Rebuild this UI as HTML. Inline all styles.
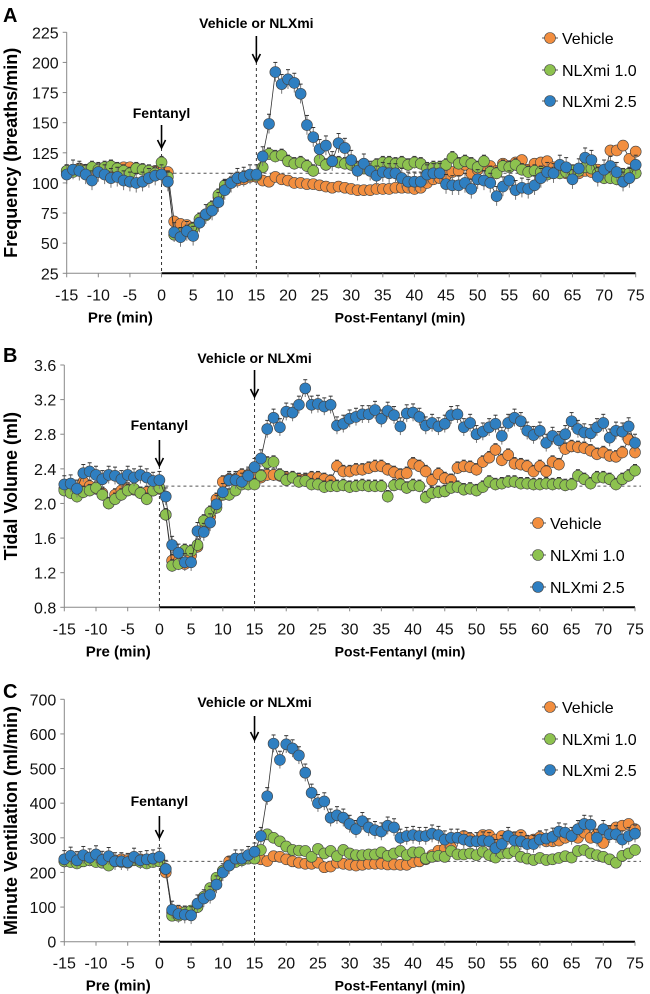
<!DOCTYPE html>
<html><head><meta charset="utf-8"><style>
body{margin:0;background:#fff;}
svg{display:block;font-family:"Liberation Sans",sans-serif;}
</style></head><body>
<svg id="chart" width="650" height="994" viewBox="0 0 650 994"></svg>
<script>
const minutes = []; for (let m = -15; m <= 75; m++) minutes.push(m);
const xTicks = [-15,-10,-5,0,5,10,15,20,25,30,35,40,45,50,55,60,65,70,75];
const seriesNames = ["Vehicle","NLXmi 1.0","NLXmi 2.5"];
const freqTicks = [25,50,75,100,125,150,175,200,225];
const tvTicks = [0.8,1.2,1.6,2.0,2.4,2.8,3.2,3.6];
const mvTicks = [0,100,200,300,400,500,600,700];

const freqVehicle = [110,111,112,111,110,111,112,113,112,113,113,112,111,110,110,109,109,68,66,65,63,67,74,80,88,96,100,102,103,105,105,102,101,105,103,102,100,100,99,99,98,97,96,97,96,95,94,94,94,95,95,95,96,96,96,95,96,100,103,104,106,109,110,115,108,111,115,114,110,116,114,117,119,111,116,117,118,113,112,108,107,108,110,109,111,106,127,127,131,120,126];
const freqN1 = [110,109,111,110,113,111,113,114,112,110,108,112,111,110,108,117,105,57,58,60,62,70,73,80,90,98,100,104,105,106,106,113,124,122,123,118,116,117,114,110,119,115,118,117,116,115,112,112,111,115,117,117,116,117,115,117,116,112,113,113,115,121,116,118,116,113,118,109,108,114,113,115,111,109,110,109,107,108,108,109,110,110,113,112,108,104,104,103,107,108,108];
const freqN25 = [107,111,110,107,102,109,107,104,105,102,101,100,101,104,106,107,101,59,55,60,56,67,74,77,84,94,100,104,105,107,107,122,149,192,182,186,183,174,148,138,128,131,118,133,129,119,110,116,110,106,109,108,108,104,101,101,101,107,108,108,99,98,98,100,95,103,102,100,89,97,102,94,96,95,98,104,109,108,115,113,103,112,121,119,105,111,114,109,101,104,115];
const freqErr = [4,5,8];

const tvVehicle = [2.17,2.15,2.14,2.25,2.2,2.17,2.12,2.0,2.1,2.15,2.17,2.16,2.12,2.13,2.15,2.17,1.87,1.34,1.33,1.30,1.40,1.50,1.70,1.85,2.05,2.25,2.28,2.28,2.33,2.33,2.33,2.30,2.33,2.33,2.32,2.30,2.30,2.28,2.28,2.30,2.30,2.28,2.26,2.43,2.37,2.37,2.39,2.39,2.41,2.43,2.43,2.39,2.36,2.33,2.35,2.46,2.43,2.37,2.27,2.34,2.29,2.27,2.41,2.43,2.42,2.39,2.48,2.53,2.62,2.50,2.56,2.46,2.45,2.43,2.37,2.43,2.37,2.48,2.45,2.63,2.66,2.65,2.64,2.61,2.57,2.59,2.55,2.54,2.59,2.74,2.59];
const tvN1 = [2.15,2.12,2.08,2.13,2.15,2.18,2.1,2.0,2.05,2.1,2.15,2.17,2.12,2.05,2.15,2.18,1.87,1.28,1.30,1.46,1.45,1.52,1.80,1.90,1.95,2.10,2.10,2.15,2.22,2.22,2.22,2.32,2.47,2.48,2.33,2.27,2.30,2.25,2.26,2.22,2.22,2.19,2.20,2.20,2.21,2.19,2.20,2.21,2.20,2.20,2.20,2.08,2.21,2.22,2.18,2.21,2.20,2.07,2.12,2.13,2.14,2.18,2.19,2.16,2.17,2.15,2.19,2.25,2.22,2.23,2.25,2.25,2.23,2.23,2.22,2.22,2.23,2.22,2.23,2.21,2.22,2.32,2.28,2.23,2.3,2.3,2.28,2.22,2.28,2.32,2.38];
const tvN25 = [2.22,2.23,2.17,2.35,2.37,2.33,2.28,2.33,2.32,2.28,2.33,2.3,2.33,2.3,2.26,2.27,2.08,1.52,1.43,1.32,1.32,1.68,1.67,1.78,1.99,2.13,2.27,2.27,2.25,2.32,2.42,2.52,2.86,2.99,2.88,3.06,3.05,3.14,3.33,3.14,3.15,3.12,3.14,2.90,2.92,2.98,3.0,3.03,3.03,3.08,2.98,3.07,3.02,2.89,3.04,3.05,3.0,2.90,2.93,2.89,2.92,3.02,3.03,2.88,2.93,2.80,2.83,2.88,2.92,2.78,2.93,2.99,2.95,2.84,2.79,2.84,2.70,2.78,2.73,2.80,2.95,2.86,2.82,2.81,2.88,2.93,2.76,2.84,2.83,2.89,2.70];
const tvErr = [0.07,0.07,0.1];

const mvVehicle = [235,238,232,240,236,238,233,230,235,238,236,242,238,235,236,240,200,85,88,85,85,100,125,150,180,205,232,238,240,245,245,238,233,247,245,238,232,228,225,225,228,215,217,228,225,222,220,222,225,225,225,223,223,222,222,230,232,238,250,263,268,272,300,305,298,290,308,308,295,305,305,300,308,290,295,302,290,290,292,300,305,300,315,300,310,285,320,330,335,340,325];
const mvN1 = [232,230,226,232,235,230,228,220,232,230,228,235,230,226,230,232,210,75,75,85,90,100,130,155,185,205,220,230,235,240,240,265,310,300,290,275,265,263,262,245,268,255,262,247,265,255,250,250,252,252,258,248,255,262,250,258,258,240,245,248,245,262,252,252,255,250,260,250,243,255,255,262,245,240,236,242,236,238,242,247,243,262,265,255,250,245,238,228,248,255,265];
const mvN25 = [238,248,235,250,243,252,236,247,232,232,230,245,235,238,240,245,210,92,80,78,76,110,125,135,165,200,220,240,240,250,260,305,420,572,525,570,558,538,488,430,400,405,358,365,358,340,325,348,330,322,318,335,330,300,305,308,305,305,312,308,295,300,300,295,290,290,292,290,270,282,305,292,290,282,282,295,298,303,318,315,305,325,340,338,300,325,310,310,295,305,312];
const mvErr = [12,12,25];

const colors = ["#f28e3f","#8dc24f","#2f7fc1"];
const svg = document.getElementById('chart');
const NS = "http://www.w3.org/2000/svg";
function el(tag, attrs, parent){ const e=document.createElementNS(NS,tag); for(const k in attrs) e.setAttribute(k,attrs[k]); (parent||svg).appendChild(e); return e; }

const panels = [
 {letter:"A", title:"Frequency (breaths/min)", x0:66.7, x1:635.7, yT:32.3, yB:273.3, vMin:25, vMax:225, ticks:freqTicks, dec:0, base:108, data:[freqVehicle,freqN1,freqN25], err:freqErr, letterY:22, titleX:17,
  fenY:118, fenA:[125,148], vehY:28, vehA:[36,62], legX:550, legY:[38,70,101], name:"frequency"},
 {letter:"B", title:"Tidal Volume (ml)", x0:64.3, x1:635, yT:365, yB:607.3, vMin:0.8, vMax:3.6, ticks:tvTicks, dec:1, base:2.2, data:[tvVehicle,tvN1,tvN25], err:tvErr, letterY:362, titleX:17,
  fenY:430, fenA:[440,466], vehY:363, vehA:[370,397], legX:538, legY:[523,555,587], name:"tidal-volume"},
 {letter:"C", title:"Minute Ventilation (ml/min)", x0:64.3, x1:635, yT:699.3, yB:941.7, vMin:0, vMax:700, ticks:mvTicks, dec:0, base:232, data:[mvVehicle,mvN1,mvN25], err:mvErr, letterY:698, titleX:17,
  fenY:806, fenA:[816,838], vehY:707, vehA:[716,740], legX:550, legY:[707,739,770], name:"minute-ventilation"}
];

panels.forEach(p=>{
  const g = el('g',{});
  
  
  const X = m => p.x0 + (m+15)*(p.x1-p.x0)/90;
  const Y = v => p.yB - (v-p.vMin)*(p.yB-p.yT)/(p.vMax-p.vMin);
  let t = el('text',{x:3,y:p.letterY,'font-size':20,'font-weight':'bold'},g); t.textContent=p.letter;
   
  let a = el('line',{x1:p.x0,y1:p.yT,x2:p.x0,y2:p.yB,stroke:'#888','stroke-width':1},g);
   
  p.ticks.forEach(v=>{
    el('line',{x1:p.x0-4,y1:Y(v),x2:p.x0,y2:Y(v),stroke:'#888'},g);
    const tl = el('text',{x:p.x0-8,y:Y(v)+6,'font-size':16,'text-anchor':'end',fill:'#111'},g);
    tl.textContent = v.toFixed(p.dec);
     
  });
  const yt = el('text',{x:0,y:0,'font-size':18,'font-weight':'bold','text-anchor':'middle',transform:`translate(${p.titleX},${(p.yT+p.yB)/2}) rotate(-90)`},g);
  yt.textContent = p.title;
   
  el('line',{x1:p.x0,y1:p.yB,x2:X(0),y2:p.yB,stroke:'#888','stroke-width':1},g);
  const xa = el('line',{x1:X(0),y1:p.yB,x2:p.x1,y2:p.yB,stroke:'#000','stroke-width':2},g);
   
  xTicks.forEach(m=>{
    el('line',{x1:X(m),y1:p.yB,x2:X(m),y2:p.yB+4,stroke:'#888'},g);
    const tl = el('text',{x:X(m),y:p.yB+27,'font-size':16,'text-anchor':'middle',fill:'#111'},g);
    tl.textContent = m;
     
  });
  let pr = el('text',{x:X(-6.5),y:p.yB+49,'font-size':15,'font-weight':'bold','text-anchor':'middle'},g); pr.textContent='Pre (min)';
   
  let po = el('text',{x:400,y:p.yB+49,'font-size':14,'font-weight':'bold','text-anchor':'middle'},g); po.textContent='Post-Fentanyl (min)';
   
  const bl = el('line',{x1:X(0),y1:Y(p.base),x2:p.x1+6,y2:Y(p.base),stroke:'#555','stroke-dasharray':'3,3','stroke-width':1},g);
   
  el('line',{x1:X(0),y1:p.fenA[1],x2:X(0),y2:p.yB,stroke:'#333','stroke-dasharray':'3,3'},g);
  el('line',{x1:X(15),y1:p.vehA[1],x2:X(15),y2:p.yB,stroke:'#333','stroke-dasharray':'3,3'},g);
  [[X(0),p.fenA,p.fenY,'Fentanyl','fentanyl'],[X(15),p.vehA,p.vehY,'Vehicle or NLXmi','vehicle-or-nlxmi']].forEach(([x,ar,ly,txt,nm])=>{
    el('line',{x1:x,y1:ar[0],x2:x,y2:ar[1]-2,stroke:'#000','stroke-width':1.6},g);
    el('path',{d:`M${x-4},${ar[1]-8} L${x},${ar[1]} L${x+4},${ar[1]-8}`,fill:'none',stroke:'#000','stroke-width':1.6},g);
    const lt = el('text',{x:x,y:ly,'font-size':14,'font-weight':'bold','text-anchor':'middle'},g); lt.textContent=txt;
     
  });
  p.data.forEach((arr,si)=>{
    const sg = el('g',{},g);
    
    
    const vals = arr.slice(0, minutes.length);
    el('polyline',{points:vals.map((v,i)=>X(minutes[i])+','+Y(v)).join(' '),fill:'none',stroke:'#333','stroke-width':0.8},sg);
    vals.forEach((v,i)=>{
      const x=X(minutes[i]), e=p.err[si];
      el('line',{x1:x,y1:Y(v-e),x2:x,y2:Y(v+e),stroke:'#777','stroke-width':1},sg);
      el('line',{x1:x-2,y1:Y(v+e),x2:x+2,y2:Y(v+e),stroke:'#333','stroke-width':1},sg);
      const c = el('circle',{cx:x,cy:Y(v),r:5.5,fill:colors[si],stroke:'#444','stroke-width':0.6},sg);
      
      
    });
  });
  seriesNames.forEach((n,si)=>{
    const lg = el('g',{},g);
    
    
    el('line',{x1:p.legX-8,y1:p.legY[si],x2:p.legX+8,y2:p.legY[si],stroke:'#555'},lg);
    el('circle',{cx:p.legX,cy:p.legY[si],r:5.5,fill:colors[si],stroke:'#444','stroke-width':0.6},lg);
    const lt = el('text',{x:p.legX+12,y:p.legY[si]+6,'font-size':16},lg); lt.textContent=n;
  });
});
</script>
</body></html>
